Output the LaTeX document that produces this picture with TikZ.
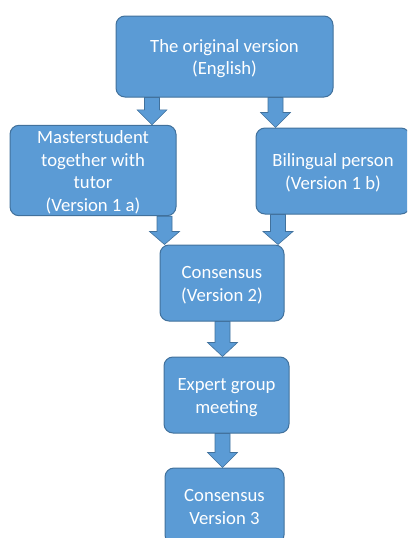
\documentclass[tikz,border=0pt]{standalone}
\usepackage{fontspec}
\setmainfont{Carlito}
\usetikzlibrary{calc,backgrounds}
\definecolor{boxfill}{RGB}{91,155,213}
\definecolor{boxline}{RGB}{65,113,156}
\newcommand\blockarrow[3]{%
  \filldraw[barrow] ($(#1)+(-7.5,0)$) -- ($(#2)+(-7.5,-#3)$) -- ($(#2)+(-15,-#3)$) -- (#2)
    -- ($(#2)+(15,-#3)$) -- ($(#2)+(7.5,-#3)$) -- ($(#1)+(7.5,0)$) -- cycle;}
\newcommand\boxtext[1]{\raisebox{-2.5pt}[\height][\depth]{\begin{tabular}{@{}c@{}}#1\end{tabular}}}
\begin{document}
\begin{tikzpicture}[x=1pt,y=-1pt,
  blk/.style={draw=boxline, fill=boxfill, line width=1pt, rounded corners=9pt,
    text=white, inner sep=0pt,
    font=\fontsize{18.7}{22.6}\selectfont},
  barrow/.style={fill=boxfill, draw=boxline, line width=0.6pt, line join=miter}]
\useasboundingbox (0,0) rectangle (407,538);
\clip (0,0) rectangle (407,538);
\node[blk, minimum width=217pt, minimum height=81pt] (orig) at (224.5,56.5)
  {\boxtext{The original version\\(English)}};
\node[blk, minimum width=166pt, minimum height=85pt] (master) at (93,170.5)
  {\boxtext{Masterstudent\\together with\\tutor\\(Version 1 a)}};
\node[blk, minimum width=154pt, minimum height=86pt] (biling) at (333,171)
  {\boxtext{Bilingual person\\(Version 1 b)}};
\node[blk, minimum width=124pt, minimum height=76pt] (cons2) at (222,283)
  {\boxtext{Consensus\\(Version 2)}};
\node[blk, minimum width=125pt, minimum height=76pt] (expert) at (226.5,395)
  {\boxtext{Expert group\\meeting}};
\node[blk, minimum width=119pt, minimum height=76pt] (cons3) at (224.5,506)
  {\boxtext{Consensus\\Version 3}};
\coordinate (a1s) at (152,0 |- orig.south);   \coordinate (a1e) at (152,0 |- master.north);
\coordinate (a2s) at (275.5,0 |- orig.south); \coordinate (a2e) at (275.5,0 |- biling.north);
\coordinate (a3s) at (164.5,0 |- master.south); \coordinate (a3e) at (164.5,0 |- cons2.north);
\coordinate (a4s) at (278,0 |- biling.south); \coordinate (a4e) at (278,0 |- cons2.north);
\coordinate (a5s) at (222.5,0 |- cons2.south); \coordinate (a5e) at (222.5,0 |- expert.north);
\coordinate (a6s) at (222.5,0 |- expert.south); \coordinate (a6e) at (222.5,0 |- cons3.north);
\begin{scope}[on background layer]
\blockarrow{a1s}{a1e}{15}
\blockarrow{a2s}{a2e}{15}
\blockarrow{a3s}{a3e}{13}
\blockarrow{a4s}{a4e}{13}
\blockarrow{a5s}{a5e}{14}
\blockarrow{a6s}{a6e}{15}
\end{scope}
\end{tikzpicture}
\end{document}
